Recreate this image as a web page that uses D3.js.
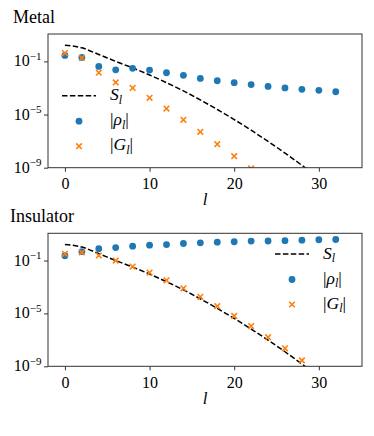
<!DOCTYPE html>
<html>
<head>
<script src="https://d3js.org/d3.v7.min.js"></script>
<style>
  body { margin: 0; background: #fff; }
  svg text { font-family: "Liberation Serif", "Times New Roman", serif !important; fill: #000; }
</style>
</head>
<body>
<script>
// l values of the points
var lVals = [0, 2, 4, 6, 8, 10, 12, 14, 16, 18, 20, 22, 24, 26, 28, 30, 32];
// S_l dashed reference curve (same in both panels)
var sL = [0, 2, 4, 6, 8, 10, 12, 14, 16, 18, 20, 22, 24, 26, 28, 30];
var sVals = [1.66, 1.05, 0.33, 0.1, 3.2e-2, 9.5e-3, 2.5e-3, 6.0e-4, 1.26e-4, 2.4e-5, 4.2e-6, 6.6e-7, 9.5e-8, 1.26e-8, 1.5e-9, 1.6e-10];
// Metal
var metalRho = [0.28, 0.20, 4.2e-2, 2.3e-2, 3.0e-2, 2.2e-2, 1.4e-2, 8.9e-3, 5.2e-3, 3.5e-3, 2.5e-3, 1.8e-3, 1.3e-3, 1.0e-3, 7.9e-4, 6.6e-4, 5.2e-4];
var metalG = [0.42, 0.18, 1.4e-2, 2.6e-3, 1.0e-3, 1.8e-4, 2.8e-5, 4.0e-6, 5.0e-7, 5.9e-8, 7.4e-9, 8.9e-10];
// Insulator
var insRho = [0.23, 0.48, 0.78, 0.95, 1.23, 1.45, 1.62, 1.95, 2.19, 2.45, 2.63, 2.95, 3.0, 3.2, 3.47, 3.72, 3.89];
var insG = [0.32, 0.41, 0.24, 0.1, 3.5e-2, 1.23e-2, 3.2e-3, 7.9e-4, 1.8e-4, 3.5e-5, 6.5e-6, 1.1e-6, 1.6e-7, 2.3e-8, 2.8e-9];
// ticks
var xTicks = [0, 10, 20, 30];
var yTicks = [1e-1, 1e-5, 1e-9];
var yTickExp = ["\u22121", "\u22125", "\u22129"];

var W = 374, H = 436;
var svg = d3.select("body").append("svg").attr("width", W).attr("height", H);

var left = 48, right = 362;
var xScale = d3.scaleLinear().domain([-2, 35.1]).range([left, right]);

var blue = "#1f77b4", orange = "#ff7f0e";

function panel(id, title, titleX, top, bottom, rho, G, legendPos) {
  var yScale = d3.scaleLog().domain([1e-9, Math.pow(10, 1.06)]).range([bottom, top]);
  var g = svg.append("g");

  g.append("text").attr("x", titleX).attr("y", top - 11.5).attr("font-size", 18).text(title);

  g.append("clipPath").attr("id", "clip" + id).append("rect")
    .attr("x", left).attr("y", top).attr("width", right - left).attr("height", bottom - top);
  var plot = g.append("g").attr("clip-path", "url(#clip" + id + ")");

  var line = d3.line().x(function(d, i){ return xScale(sL[i]); }).y(function(d){ return yScale(d); })
    .curve(d3.curveMonotoneX);
  plot.append("path").attr("d", line(sVals)).attr("fill", "none").attr("stroke", "#000")
    .attr("stroke-width", 1.5).attr("stroke-dasharray", "5.5,2.4");

  plot.selectAll("circle").data(rho).enter().append("circle")
    .attr("cx", function(d, i){ return xScale(lVals[i]); })
    .attr("cy", function(d){ return yScale(d); })
    .attr("r", 3.4).attr("fill", blue);

  function cross(sel, x, y) {
    var s = 2.8;
    sel.append("path").attr("d", "M" + (x - s) + "," + (y - s) + "L" + (x + s) + "," + (y + s) +
      "M" + (x - s) + "," + (y + s) + "L" + (x + s) + "," + (y - s))
      .attr("stroke", orange).attr("stroke-width", 1.6).attr("fill", "none");
  }
  G.forEach(function(d, i){ cross(plot, xScale(lVals[i]), yScale(d)); });

  // frame
  g.append("rect").attr("x", left).attr("y", top).attr("width", right - left).attr("height", bottom - top)
    .attr("fill", "none").attr("stroke", "#333").attr("stroke-width", 1);

  // x axis
  var xAxis = d3.axisBottom(xScale).tickValues(xTicks).tickSize(4).tickPadding(6);
  var xa = g.append("g").attr("transform", "translate(0," + bottom + ")").call(xAxis);
  xa.select(".domain").remove();
  xa.selectAll("line").attr("stroke", "#333");
  xa.selectAll("text").attr("font-size", 16);

  // y axis
  var yAxis = d3.axisLeft(yScale).tickValues(yTicks).tickSize(4).tickFormat("");
  var ya = g.append("g").attr("transform", "translate(" + left + ",0)").call(yAxis);
  ya.select(".domain").remove();
  ya.selectAll("line").attr("stroke", "#333");
  yTicks.forEach(function(v, i){
    var t = g.append("text").attr("x", 41.5).attr("y", yScale(v) + 5).attr("text-anchor", "end")
      .attr("font-size", 16);
    t.append("tspan").text("10");
    t.append("tspan").attr("dy", -6.5).attr("font-size", 11).text(yTickExp[i]);
  });

  // x label
  g.append("text").attr("x", 205).attr("y", bottom + 37.5).attr("text-anchor", "middle")
    .attr("font-size", 17).attr("font-style", "italic").text("l");

  // legend
  var lx = legendPos[0], ly = legendPos[1];
  g.append("line").attr("x1", lx).attr("x2", lx + 34).attr("y1", ly).attr("y2", ly)
    .attr("stroke", "#000").attr("stroke-width", 1.5).attr("stroke-dasharray", "5.5,2.4");
  g.append("circle").attr("cx", lx + 17).attr("cy", ly + 25.5).attr("r", 3.4).attr("fill", blue);
  cross(g, lx + 17, ly + 50.5);
  var tx = lx + 48;
  function label(y, parts) {
    var t = g.append("text").attr("x", tx).attr("y", y).attr("font-size", 17.5);
    parts.forEach(function(p){
      var s = t.append("tspan").text(p[0]);
      if (p[1]) s.attr("font-style", "italic");
      if (p[2]) s.attr("dy", p[2]);
      if (p[3]) s.attr("font-size", p[3]);
    });
  }
  label(ly + 4.5, [["S", true], ["l", true, 3.5, 12]]);
  label(ly + 29.5, [["|", false], ["\u03c1", true], ["l", true, 3.5, 12], ["|", false, -3.5]]);
  label(ly + 54.5, [["|", false], ["G", true], ["l", true, 3.5, 12], ["|", false, -3.5]]);
}

panel("a", "Metal", 13, 34, 167.7, metalRho, metalG, [62, 95.7]);
panel("b", "Insulator", 10, 233.3, 366.3, insRho, insG, [275, 254]);
</script>
</body>
</html>
